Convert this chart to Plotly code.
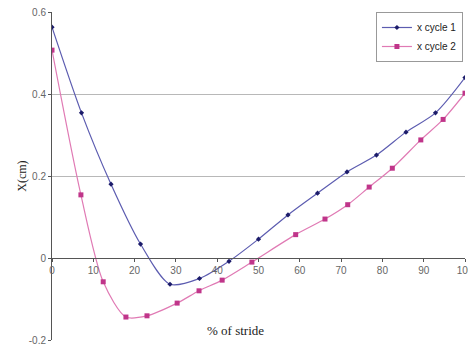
import plotly.graph_objects as go

x1 = [0, 7.14, 14.29, 21.43, 28.57, 35.71, 42.86, 50, 57.14, 64.29, 71.43, 78.57, 85.71, 92.86, 100]
y1 = [0.563, 0.354, 0.180, 0.034, -0.064, -0.050, -0.008, 0.046, 0.105, 0.158, 0.210, 0.251, 0.307, 0.354, 0.440]

x2 = [0, 7.0, 12.4, 17.9, 23.0, 30.3, 35.6, 41.2, 48.4, 59.0, 66.1, 71.6, 76.8, 82.4, 89.3, 94.7, 100]
y2 = [0.507, 0.154, -0.058, -0.144, -0.141, -0.110, -0.080, -0.054, -0.010, 0.057, 0.095, 0.130, 0.173, 0.219, 0.288, 0.338, 0.402]

xticks = [0, 10, 20, 30, 40, 50, 60, 70, 80, 90, 100]
yticks = [-0.2, 0, 0.2, 0.4, 0.6]
ytick_text = ["-0.2", "0", "0.2", "0.4", "0.6"]

fig = go.Figure()
fig.add_trace(go.Scatter(
    x=x1, y=y1, name="x cycle 1", mode="lines+markers",
    line=dict(color="#5c5cb0", width=1.2, shape="spline", smoothing=0.8),
    marker=dict(symbol="diamond", size=4, color="#1c1c6a"),
))
fig.add_trace(go.Scatter(
    x=x2, y=y2, name="x cycle 2", mode="lines+markers",
    line=dict(color="#e07ab4", width=1.2, shape="spline", smoothing=0.8),
    marker=dict(symbol="square", size=5, color="#c0358a"),
))

fig.update_layout(
    width=468, height=351,
    margin=dict(l=52, r=3, t=12, b=11, autoexpand=False),
    paper_bgcolor="white", plot_bgcolor="white",
    font=dict(family="Arial, Liberation Sans, sans-serif", size=10, color="#444"),
    showlegend=True,
    legend=dict(
        x=0.995, y=1.0, xanchor="right", yanchor="top",
        bordercolor="#999", borderwidth=1, bgcolor="white",
        font=dict(size=10, color="#222"),
        itemwidth=30, tracegroupgap=0,
    ),
    xaxis=dict(
        range=[0, 100], tickvals=xticks, ticktext=[str(v) for v in xticks],
        anchor="free", position=0.25, automargin=False,
        showgrid=False, zeroline=False,
        showline=True, linecolor="#555", linewidth=1,
        ticks="outside", ticklen=3, tickcolor="#555",
        tickfont=dict(size=10, color="#666"),
        ticklabeloverflow="allow",
    ),
    yaxis=dict(
        range=[-0.2, 0.6], tickvals=yticks, ticktext=ytick_text, automargin=False,
        showgrid=True, gridcolor="#b8b8b8", gridwidth=1,
        zeroline=False,
        showline=True, linecolor="#555", linewidth=1,
        ticks="outside", ticklen=3, tickcolor="#555",
        tickfont=dict(size=10, color="#666"),
        ticklabeloverflow="allow",
    ),
)

fig.add_annotation(
    x=44.5, y=-0.176, xref="x", yref="y", text="% of stride", showarrow=False,
    font=dict(family="Times New Roman, Liberation Serif, serif", size=13, color="#222"),
)
fig.add_annotation(
    x=-0.095, y=0.2, xref="paper", yref="y", text="X(cm)", showarrow=False, textangle=-90,
    font=dict(family="Times New Roman, Liberation Serif, serif", size=12, color="#222"),
)

fig.write_html(
    "out.html",
    config={"displayModeBar": False},
    post_script="document.body.style.margin='0';document.body.style.overflow='hidden';",
)
